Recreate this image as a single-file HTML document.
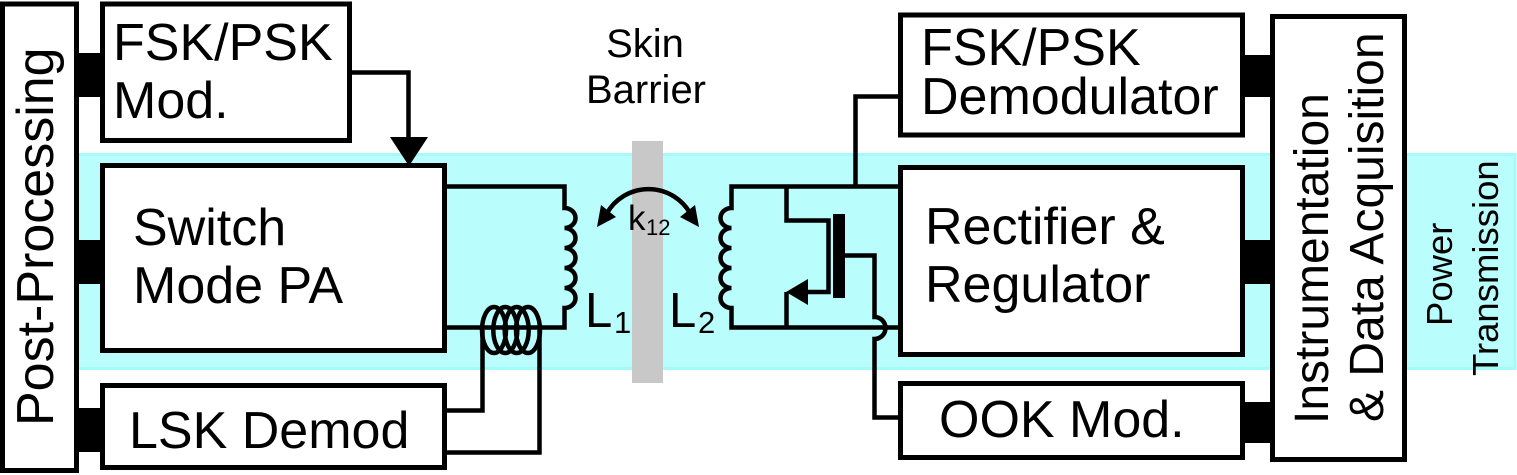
<!DOCTYPE html>
<html>
<head>
<meta charset="utf-8">
<style>
  html, body { margin: 0; padding: 0; background: #ffffff; }
  body { width: 1517px; height: 475px; overflow: hidden; }
  svg { display: block; }
  text { font-family: "Liberation Sans", Arial, sans-serif; fill: #000; }
</style>
</head>
<body>
<svg width="1517" height="475" viewBox="0 0 1517 475" xmlns="http://www.w3.org/2000/svg">
  <!-- Power transmission band -->
  <rect x="40" y="154.5" width="1475" height="214" fill="#b9fdfd" stroke="#a3fbfb" stroke-width="3"/>

  <!-- Skin barrier -->
  <rect x="632" y="141" width="31" height="242" fill="#c8c8c8"/>

  <!-- Boxes -->
  <g fill="#ffffff" stroke="#000" stroke-width="5">
    <rect x="2.5" y="4" width="74" height="466.5"/>
    <rect x="102.5" y="4" width="247" height="136.5"/>
    <rect x="102.5" y="165.5" width="342" height="185"/>
    <rect x="102.5" y="385.5" width="342" height="82"/>
    <rect x="900.5" y="15" width="342" height="120"/>
    <rect x="900.5" y="167.5" width="342" height="187"/>
    <rect x="900.5" y="383.5" width="342" height="74"/>
    <rect x="1272.5" y="16.5" width="132" height="443"/>
  </g>

  <!-- Connector blocks -->
  <g fill="#000">
    <rect x="76" y="53" width="27" height="44"/>
    <rect x="76" y="240" width="27" height="44"/>
    <rect x="76" y="408" width="27" height="44"/>
    <rect x="1241" y="55" width="32" height="42"/>
    <rect x="1241" y="240" width="32" height="44"/>
    <rect x="1241" y="402" width="32" height="41"/>
  </g>

  <!-- Wires -->
  <g fill="none" stroke="#000" stroke-width="4.5">
    <!-- FSK mod to PA -->
    <path d="M350,72.5 H408.5 V140"/>
    <!-- L1 circuit -->
    <path d="M445,186.5 H564.5 V208 a11,10 0 0 1 0,20 a11,10 0 0 1 0,20 a11,10 0 0 1 0,20 a11,10 0 0 1 0,20 a11,10 0 0 1 0,20 V327.5 H445"/>
    <!-- transformer loops -->
    <ellipse cx="494" cy="330" rx="12" ry="23"/>
    <ellipse cx="505.3" cy="330" rx="12" ry="23"/>
    <ellipse cx="516.7" cy="330" rx="12" ry="23"/>
    <ellipse cx="528" cy="330" rx="12" ry="23"/>
    <path d="M482.5,330 V410.5 H445"/>
    <path d="M539.5,330 V452.5 H445"/>
    <!-- L2 circuit -->
    <path d="M900,186.5 H731.5 V208 a11,10 0 0 0 0,20 a11,10 0 0 0 0,20 a11,10 0 0 0 0,20 a11,10 0 0 0 0,20 a11,10 0 0 0 0,20 V327.5 H900"/>
    <!-- demod tap -->
    <path d="M900,96.5 H855.5 V186.5"/>
    <!-- transistor -->
    <path d="M786.5,186.5 V220.5 H828.5 V292 H800"/>
    <path d="M786.5,292 V327.5"/>
    <!-- gate line with hop -->
    <path d="M845,255.5 H874.5 V317 a11,11 0 0 1 0,22 V417.5 H900"/>
    <!-- coupling arc -->
    <path d="M607,213 A48,48 0 0 1 690,213"/>
  </g>

  <!-- Arrowheads and gate plate -->
  <g fill="#000">
    <polygon points="390,137 428,137 409,166"/>
    <polygon points="786,292 808,279 808,305"/>
    <rect x="833" y="214" width="12" height="84"/>
    <polygon points="597,227 616,217 601,205"/>
    <polygon points="699,227 680,217 695,205"/>
  </g>

  <!-- Labels -->
  <text x="113" y="60" font-size="52">FSK/PSK</text>
  <text x="113" y="118" font-size="52">Mod.</text>
  <text x="133" y="245" font-size="52">Switch</text>
  <text x="133" y="303" font-size="52">Mode PA</text>
  <text x="129" y="448" font-size="52">LSK Demod</text>

  <text x="921" y="65" font-size="52">FSK/PSK</text>
  <text x="921" y="114" font-size="52">Demodulator</text>
  <text x="925" y="244" font-size="52">Rectifier &amp;</text>
  <text x="925" y="302" font-size="52">Regulator</text>
  <text x="939" y="437" font-size="52">OOK Mod.</text>

  <text x="645" y="57" font-size="40" text-anchor="middle">Skin</text>
  <text x="646" y="103" font-size="40" text-anchor="middle">Barrier</text>

  <text x="628" y="230" font-size="35">k</text>
  <text x="646" y="235" font-size="22">12</text>

  <text x="585" y="327" font-size="49">L</text>
  <text x="614" y="333" font-size="31">1</text>
  <text x="669" y="327" font-size="49">L</text>
  <text x="698" y="333" font-size="31">2</text>

  <text transform="translate(53,426) rotate(-90)" font-size="52">Post-Processing</text>
  <text transform="translate(1328,424) rotate(-90)" font-size="48">Instrumentation</text>
  <text transform="translate(1383,422) rotate(-90)" font-size="48">&amp; Data Acquisition</text>
  <text transform="translate(1452,326) rotate(-90)" font-size="36.5">Power</text>
  <text transform="translate(1498,376) rotate(-90)" font-size="36.5">Transmission</text>
</svg>
</body>
</html>
